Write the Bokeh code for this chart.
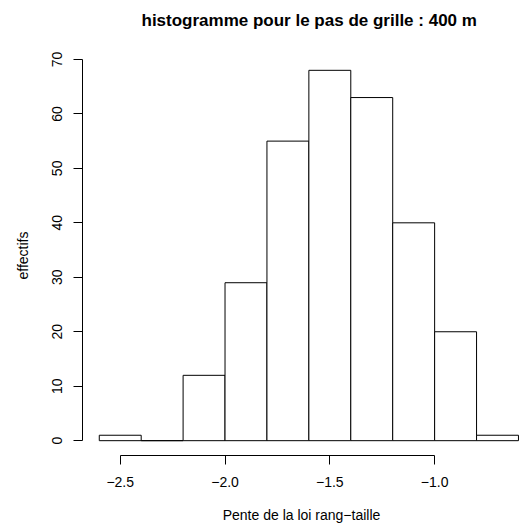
from bokeh.plotting import figure
from bokeh.models import FixedTicker, Range1d
from bokeh.embed import file_html
from bokeh.resources import INLINE

# Data (histogram)
bin_edges = [-2.6, -2.4, -2.2, -2.0, -1.8, -1.6, -1.4, -1.2, -1.0, -0.8, -0.6]
counts = [1, 0, 12, 29, 55, 68, 63, 40, 20, 1]
x_ticks = [-2.5, -2.0, -1.5, -1.0]
x_tick_labels = ["\u22122.5", "\u22122.0", "\u22121.5", "\u22121.0"]
y_ticks = [0, 10, 20, 30, 40, 50, 60, 70]
title_text = "histogramme pour le pas de grille : 400 m"

FONT = "Liberation Sans"

p = figure(width=520, height=529, output_backend="svg", toolbar_location=None,
           x_range=Range1d(-2.68, -0.5903), y_range=Range1d(-2.72, 70.72),
           title=title_text + "\n",
           min_border_left=82, min_border_right=0, min_border_top=55, min_border_bottom=74)

p.quad(left=bin_edges[:-1], right=bin_edges[1:], top=counts, bottom=0,
       fill_color="white", line_color="black", line_width=1)

p.grid.visible = False
p.outline_line_color = None
p.background_fill_color = "white"
p.border_fill_color = "white"

# Title (second empty line lifts it away from the plot frame)
p.title.text_font = FONT
p.title.text_font_size = "17px"
p.title.text_font_style = "bold"
p.title.text_color = "black"
p.title.align = "left"
p.title.offset = 59
p.title.standoff = 14

# X axis
xa = p.xaxis[0]
xa.ticker = FixedTicker(ticks=x_ticks, minor_ticks=[])
xa.major_label_overrides = {t: l for t, l in zip(x_ticks, x_tick_labels)}
xa.bounds = (x_ticks[0], x_ticks[-1])
xa.axis_label = "Pente de la loi rang\u2212taille"

# Y axis
ya = p.yaxis[0]
ya.ticker = FixedTicker(ticks=y_ticks, minor_ticks=[])
ya.bounds = (y_ticks[0], y_ticks[-1])
ya.axis_label = "effectifs"
ya.major_label_orientation = "vertical"

for ax in (xa, ya):
    ax.axis_line_color = "black"
    ax.major_tick_line_color = "black"
    ax.major_tick_in = 0
    ax.major_tick_out = 9
    ax.minor_tick_line_color = None
    ax.major_label_text_font = FONT
    ax.major_label_text_font_size = "14px"
    ax.major_label_text_color = "black"
    ax.axis_label_text_font = FONT
    ax.axis_label_text_font_size = "14px"
    ax.axis_label_text_font_style = "normal"
    ax.axis_label_text_color = "black"

xa.major_label_standoff = 12
xa.axis_label_standoff = 17
ya.major_label_standoff = 11
ya.axis_label_standoff = 19

open("out.html", "w").write(file_html(p, INLINE))
